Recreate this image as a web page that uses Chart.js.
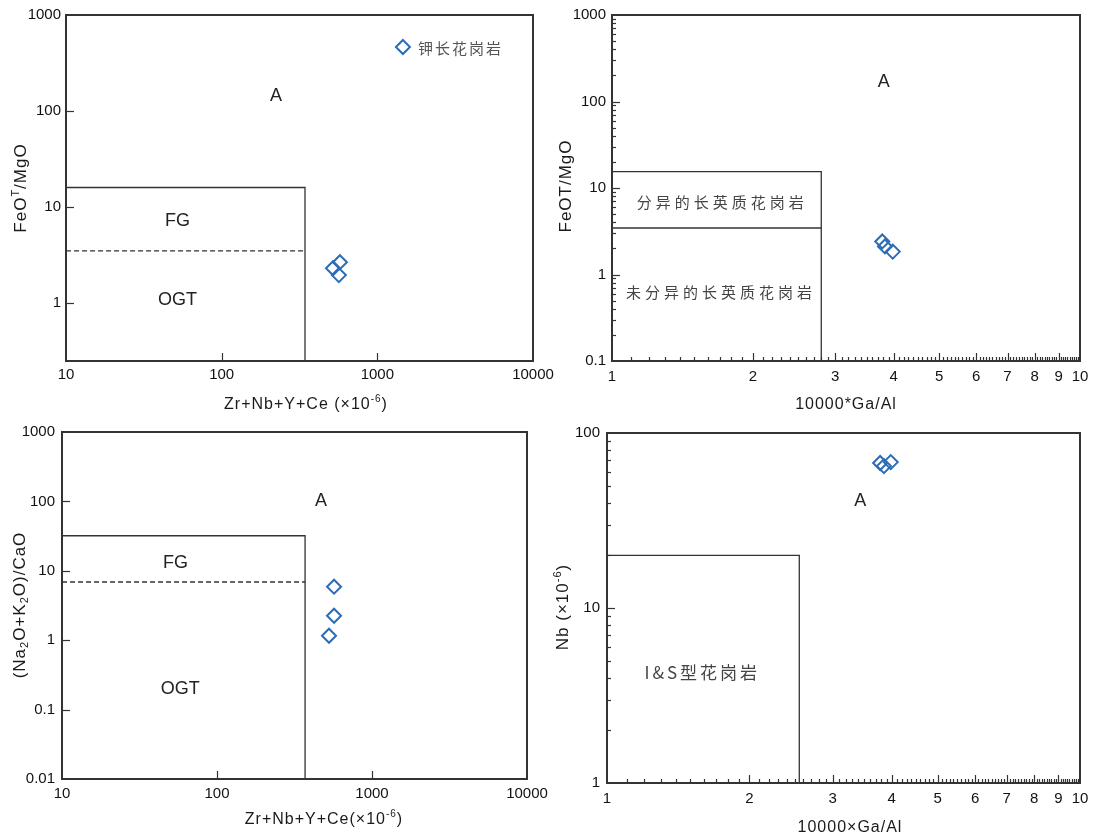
<!DOCTYPE html>
<html>
<head>
<meta charset="utf-8">
<script src="https://cdn.jsdelivr.net/npm/chart.js@4.4.1/dist/chart.umd.min.js"></script>
<style>
  html, body { margin: 0; padding: 0; background: #fff; }
  .panel { position: absolute; width: 548px; height: 418px; }
  .wide { width: 575px; }
</style>
</head>
<body>
<div class="panel wide" style="left:0;top:0"><canvas id="c1"></canvas></div>
<div class="panel" style="left:548px;top:0"><canvas id="c2"></canvas></div>
<div class="panel wide" style="left:0;top:418px"><canvas id="c3"></canvas></div>
<div class="panel" style="left:548px;top:418px"><canvas id="c4"></canvas></div>
<script>
// sample values (钾长花岗岩, 3 samples)
const zrSum1 = [575, 519, 566];
const feoMgo1 = [2.67, 2.31, 1.96];
const gaAl2 = [3.78, 3.83, 3.98];
const feoMgo2 = [2.41, 2.11, 1.84];
const zrSum3 = [569, 569, 528];
const alkCao3 = [5.9, 2.25, 1.16];
const gaAl4 = [3.78, 3.85, 3.98];
const nb4 = [67.4, 64.7, 68.2];

// field boundaries
const boxX1 = [10, 343, 343], boxY1 = [16, 16, 0.25];
const splitX1 = [10, 343], splitY1 = [3.5, 3.5];
const boxX2 = [1, 2.8, 2.8], boxY2 = [15.5, 15.5, 0.1];
const splitX2 = [1, 2.8], splitY2 = [3.45, 3.45];
const boxX3 = [10, 370, 370], boxY3 = [32, 32, 0.01];
const splitX3 = [10, 370], splitY3 = [6.9, 6.9];
const boxX4 = [1, 2.55, 2.55], boxY4 = [20, 20, 1];

// tick labels
const zrTicks = [10, 100, 1000, 10000];
const gaTicks = [1, 2, 3, 4, 5, 6, 7, 8, 9, 10];
const feoTicks1 = [1, 10, 100, 1000];
const feoTicks2 = [0.1, 1, 10, 100, 1000];
const alkTicks = [0.01, 0.1, 1, 10, 100, 1000];
const nbTicks = [1, 10, 100];

const FONT = '"Liberation Sans", Arial, "DejaVu Sans", sans-serif';
const CJK = '"Noto Sans CJK SC", sans-serif';
const BLUE = '#2b6cb6';
const INK = '#333';

const pts = (xs, ys) => xs.map((x, i) => ({ x: x, y: ys[i] }));

// minor ticks for log axes
function minors(decades) {
  const out = [];
  decades.forEach(d => { for (let k = 2; k <= 9; k++) out.push(d * k); });
  return out;
}
const gaMinor = [];
for (let i = 11; i < 100; i++) if (i % 10) gaMinor.push(i / 10);

function drawRich(ctx, segs, cx, cy, rot, size) {
  ctx.save();
  ctx.translate(cx, cy);
  ctx.rotate(rot);
  ctx.letterSpacing = '1px';
  ctx.textAlign = 'left';
  ctx.textBaseline = 'alphabetic';
  ctx.fillStyle = '#1a1a1a';
  const fontOf = s => (s.k ? Math.round(size * 0.62) : size) + 'px ' + FONT;
  let w = 0;
  segs.forEach(s => { ctx.font = fontOf(s); w += ctx.measureText(s.t).width; });
  let px = -w / 2;
  segs.forEach(s => {
    ctx.font = fontOf(s);
    const dy = s.k === 'sup' ? -size * 0.42 : s.k === 'sub' ? size * 0.18 : 0;
    ctx.fillText(s.t, px, size * 0.36 + dy);
    px += ctx.measureText(s.t).width;
  });
  ctx.restore();
}

function decor(spec) {
  return {
    id: 'decor',
    afterDraw(chart) {
      const { ctx, chartArea: a, scales: { x, y } } = chart;
      ctx.save();
      ctx.strokeStyle = INK;
      ctx.lineWidth = 1.2;
      const tx = (v, len) => {
        const p = Math.round(x.getPixelForValue(v)) + 0.5;
        ctx.beginPath(); ctx.moveTo(p, a.bottom); ctx.lineTo(p, a.bottom - len); ctx.stroke();
      };
      const ty = (v, len) => {
        const p = Math.round(y.getPixelForValue(v)) + 0.5;
        ctx.beginPath(); ctx.moveTo(a.left, p); ctx.lineTo(a.left + len, p); ctx.stroke();
      };
      (spec.xMajor || []).forEach(v => tx(v, 8));
      (spec.xMinor || []).forEach(v => tx(v, 4));
      (spec.yMajor || []).forEach(v => ty(v, 8));
      (spec.yMinor || []).forEach(v => ty(v, 4));

      ctx.lineWidth = 2;
      ctx.strokeRect(a.left, a.top, a.right - a.left, a.bottom - a.top);

      ctx.textAlign = 'center';
      ctx.textBaseline = 'middle';
      (spec.labels || []).forEach(l => {
        ctx.font = l.font;
        ctx.fillStyle = l.color || '#222';
        ctx.letterSpacing = (l.spacing || 0) + 'px';
        ctx.fillText(l.text, x.getPixelForValue(l.x), y.getPixelForValue(l.y));
      });
      ctx.letterSpacing = '0px';

      if (spec.legend) {
        const lx = x.getPixelForValue(spec.legend.x), ly = y.getPixelForValue(spec.legend.y);
        ctx.strokeStyle = BLUE; ctx.lineWidth = 2;
        ctx.beginPath();
        ctx.moveTo(lx, ly - 7); ctx.lineTo(lx + 7, ly); ctx.lineTo(lx, ly + 7); ctx.lineTo(lx - 7, ly);
        ctx.closePath(); ctx.stroke();
        ctx.fillStyle = '#555';
        ctx.font = '15px ' + CJK;
        ctx.letterSpacing = '2px';
        ctx.textAlign = 'left';
        ctx.fillText(spec.legend.text, lx + 15, ly + 1);
        ctx.letterSpacing = '0px';
      }

      drawRich(ctx, spec.xTitle, spec.xTitlePos[0], spec.xTitlePos[1], 0, 16);
      drawRich(ctx, spec.yTitle, spec.yTitlePos[0], spec.yTitlePos[1], -Math.PI / 2, 17);
      ctx.restore();
    }
  };
}

function logAxis(min, max, ticks, pad, fit) {
  return {
    type: 'logarithmic',
    min: min,
    max: max,
    grid: { display: false, drawTicks: false },
    border: { display: false },
    title: { display: false },
    afterBuildTicks: s => { s.ticks = ticks.map(v => ({ value: v })); },
    afterFit: fit,
    ticks: {
      callback: v => String(v),
      color: '#111',
      font: { size: 15, family: FONT },
      padding: pad,
      autoSkip: false,
      maxRotation: 0
    }
  };
}

function panel(id, o) {
  const lines = o.lines.map(l => ({
    data: l.data,
    showLine: true,
    borderColor: INK,
    borderWidth: 1.3,
    borderDash: l.dash || [],
    pointRadius: 0,
    tension: 0
  }));
  new Chart(document.getElementById(id), {
    type: 'scatter',
    data: {
      datasets: lines.concat([{
        label: '钾长花岗岩',
        data: o.points,
        pointStyle: 'rectRot',
        pointRadius: 7,
        borderWidth: 2,
        borderColor: BLUE,
        backgroundColor: 'rgba(0,0,0,0)'
      }])
    },
    options: {
      responsive: true,
      maintainAspectRatio: false,
      animation: false,
      layout: { padding: { left: 0, top: o.top, right: o.right, bottom: 0 } },
      scales: {
        x: logAxis(o.xMin, o.xMax, o.xTicks, o.xPad, s => { s.height = o.xH; s.paddingLeft = 0; s.paddingRight = 0; }),
        y: logAxis(o.yMin, o.yMax, o.yTicks, o.yPad, s => { s.width = o.yW; s.paddingTop = 0; s.paddingBottom = 0; })
      },
      plugins: { legend: { display: false }, tooltip: { enabled: false } }
    },
    plugins: [decor(o.decor)]
  });
}

const big = '18px ' + FONT;

// FeOT/MgO vs Zr+Nb+Y+Ce
panel('c1', {
  points: pts(zrSum1, feoMgo1),
  lines: [{ data: pts(boxX1, boxY1) }, { data: pts(splitX1, splitY1), dash: [5, 3] }],
  xMin: 10, xMax: 10000, xTicks: zrTicks, xPad: 5, xH: 57,
  yMin: 0.25, yMax: 1000, yTicks: feoTicks1, yPad: 5, yW: 66,
  top: 15, right: 42,
  decor: {
    xMajor: [100, 1000], yMajor: [1, 10, 100],
    labels: [
      { text: 'A', x: 223, y: 143, font: big },
      { text: 'FG', x: 52, y: 7.1, font: big },
      { text: 'OGT', x: 52, y: 1.07, font: big }
    ],
    legend: { x: 1460, y: 464, text: '钾长花岗岩' },
    xTitle: [{ t: 'Zr+Nb+Y+Ce (×10' }, { t: '-6', k: 'sup' }, { t: ')' }], xTitlePos: [306, 403],
    yTitle: [{ t: 'FeO' }, { t: 'T', k: 'sup' }, { t: '/MgO' }], yTitlePos: [20, 188]
  }
});

// FeOT/MgO vs 10000*Ga/Al
panel('c2', {
  points: pts(gaAl2, feoMgo2),
  lines: [{ data: pts(boxX2, boxY2) }, { data: pts(splitX2, splitY2) }],
  xMin: 1, xMax: 10, xTicks: gaTicks, xPad: 7, xH: 57,
  yMin: 0.1, yMax: 1000, yTicks: feoTicks2, yPad: 6, yW: 64,
  top: 15, right: 16,
  decor: {
    xMajor: [2, 3, 4, 5, 6, 7, 8, 9], xMinor: gaMinor,
    yMajor: [1, 10, 100], yMinor: minors([0.1, 1, 10, 100]),
    labels: [
      { text: 'A', x: 3.81, y: 170, font: big },
      { text: '分异的长英质花岗岩', x: 1.72, y: 6.9, font: '15px ' + CJK, color: '#444', spacing: 4 },
      { text: '未分异的长英质花岗岩', x: 1.71, y: 0.62, font: '15px ' + CJK, color: '#444', spacing: 4 }
    ],
    xTitle: [{ t: '10000*Ga/Al' }], xTitlePos: [298, 403],
    yTitle: [{ t: 'FeOT/MgO' }], yTitlePos: [17, 186]
  }
});

// (Na2O+K2O)/CaO vs Zr+Nb+Y+Ce
panel('c3', {
  points: pts(zrSum3, alkCao3),
  lines: [{ data: pts(boxX3, boxY3) }, { data: pts(splitX3, splitY3), dash: [5, 3] }],
  xMin: 10, xMax: 10000, xTicks: zrTicks, xPad: 6, xH: 57,
  yMin: 0.01, yMax: 1000, yTicks: alkTicks, yPad: 7, yW: 62,
  top: 14, right: 48,
  decor: {
    xMajor: [100, 1000], yMajor: [0.1, 1, 10, 100],
    labels: [
      { text: 'A', x: 469, y: 102, font: big },
      { text: 'FG', x: 54, y: 13, font: big },
      { text: 'OGT', x: 58, y: 0.2, font: big }
    ],
    xTitle: [{ t: 'Zr+Nb+Y+Ce(×10' }, { t: '-6', k: 'sup' }, { t: ')' }], xTitlePos: [324, 400],
    yTitle: [{ t: '(Na' }, { t: '2', k: 'sub' }, { t: 'O+K' }, { t: '2', k: 'sub' }, { t: 'O)/CaO' }], yTitlePos: [19, 187]
  }
});

// Nb vs 10000*Ga/Al
panel('c4', {
  points: pts(gaAl4, nb4),
  lines: [{ data: pts(boxX4, boxY4) }],
  xMin: 1, xMax: 10, xTicks: gaTicks, xPad: 7, xH: 53,
  yMin: 1, yMax: 100, yTicks: nbTicks, yPad: 7, yW: 59,
  top: 15, right: 16,
  decor: {
    xMajor: [2, 3, 4, 5, 6, 7, 8, 9], xMinor: gaMinor,
    yMajor: [10], yMinor: minors([1, 10]),
    labels: [
      { text: 'A', x: 3.43, y: 40.8, font: big },
      { text: 'I&S型花岗岩', x: 1.59, y: 4.25, font: '17px ' + CJK, color: '#444', spacing: 3 }
    ],
    xTitle: [{ t: '10000×Ga/Al' }], xTitlePos: [302, 408],
    yTitle: [{ t: 'Nb (×10' }, { t: '-6', k: 'sup' }, { t: ')' }], yTitlePos: [14, 189]
  }
});
</script>
</body>
</html>
